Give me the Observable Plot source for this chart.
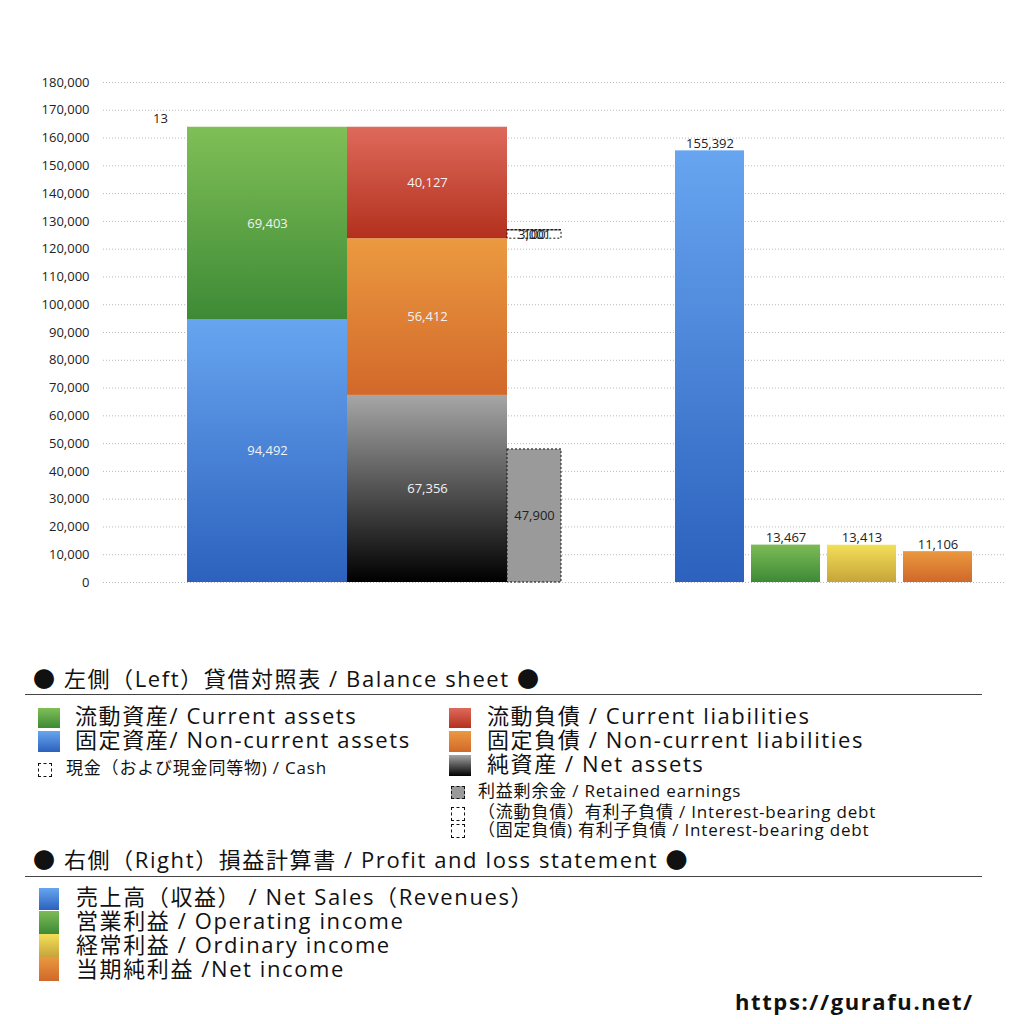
<!DOCTYPE html>
<html><head><meta charset="utf-8">
<script src="https://cdn.jsdelivr.net/npm/d3@7"></script>
<script src="https://cdn.jsdelivr.net/npm/@observablehq/plot@0.6"></script>
<style>
body{margin:0;background:#fff;font-family:"Open Sans","Noto Sans CJK JP",sans-serif;color:#111;}
#wrap{position:relative;width:1024px;height:1024px;overflow:hidden;}
#chart{position:absolute;left:0;top:0;}
.t{position:absolute;white-space:nowrap;line-height:24px;height:24px;}
.big{font-size:22px;letter-spacing:1.6px;}
.small{font-size:17px;letter-spacing:0.8px;}
.sw{position:absolute;}
.line{position:absolute;height:0;border-top:1px solid #444;}
</style></head><body>
<div id="wrap"><div id="chart"></div><div id="legend"></div></div>
<script>
// ---------- data ----------
const assetKeys = ["nonCurrentAssets", "currentAssets"];
const assetValues = [94492, 69403];
const liabKeys = ["netAssets", "nonCurrentLiabilities", "currentLiabilities"];
const liabValues = [67356, 56412, 40127];
const cashValues = [13];
const retainedValues = [47900];
const debtKeys = ["nonCurrentDebt", "currentDebt"];
const debtValues = [3001, 100];
const plKeys = ["sales", "operating", "ordinary", "netIncome"];
const plValues = [155392, 13467, 13413, 11106];
const yTicks = [0,10000,20000,30000,40000,50000,60000,70000,80000,90000,100000,110000,120000,130000,140000,150000,160000,170000,180000];

// ---------- layout (column widths along x) ----------
const layout = [["lead",30],["cash",54],["assets",160],["liabilities",160],["debt",54],["gap",114],
  ["sales",69],["g1",7],["operating",69],["g2",7],["ordinary",69],["g3",7],["netIncome",69],["trail",33]];
const colPos = {};
let acc = 0;
for (const [k, w] of layout) { colPos[k] = [acc, acc + w]; acc += w; }
const xTotal = acc;

const gradients = {
  currentAssets: ["#80bf57", "#3d8a36"],
  nonCurrentAssets: ["#67a5f0", "#2c61bd"],
  currentLiabilities: ["#de6a5c", "#b3301d"],
  nonCurrentLiabilities: ["#eb9a40", "#d2682a"],
  netAssets: ["#a6a6a6", "#000000"],
  sales: ["#67a5f0", "#2c61bd"],
  operating: ["#7dbb56", "#3d8a36"],
  ordinary: ["#f3df57", "#c6a43b"],
  netIncome: ["#ea983f", "#d0682a"]
};

function stackCol(col, keys, values, base = 0) {
  let b = base;
  return keys.map((k, i) => {
    const s = {col, key: k, value: values[i], y1: b, y2: b + values[i],
      x1: colPos[col][0], x2: colPos[col][1]};
    b += values[i];
    return s;
  });
}
const assetSegs = stackCol("assets", assetKeys, assetValues);
const liabSegs = stackCol("liabilities", liabKeys, liabValues);
const totalAssets = d3.sum(assetValues);
const cashSegs = stackCol("cash", ["cash"], cashValues, totalAssets);
const retainedSegs = stackCol("debt", ["retained"], retainedValues);
const debtSegs = stackCol("debt", debtKeys, debtValues, liabValues[0] + liabValues[1]);
const plSegs = plKeys.map((k, i) => ({col: k, key: k, value: plValues[i], y1: 0, y2: plValues[i],
  x1: colPos[k][0], x2: colPos[k][1]}));
const gradSegs = [...assetSegs, ...liabSegs, ...plSegs];

const fmt = d3.format(",");
const xm = d => (d.x1 + d.x2) / 2;
const ym = d => (d.y1 + d.y2) / 2;
const lbl = {fontSize: 13, letterSpacing: "0.3px"};

const chart = Plot.plot({
  width: 1024, height: 640,
  marginLeft: 103, marginRight: 19, marginTop: 82, marginBottom: 58,
  style: {fontFamily: "'Open Sans','Noto Sans CJK JP',sans-serif", fontSize: "13px", color: "#222", background: "#fff"},
  x: {domain: [0, xTotal], axis: null},
  y: {domain: [0, 180000], axis: null},
  color: {type: "identity"},
  marks: [
    Plot.ruleY(yTicks, {stroke: "#b8b8b8", strokeDasharray: "1,2", strokeWidth: 1}),
    Plot.axisY(yTicks, {tickSize: 0, tickPadding: 14, tickFormat: fmt, fontSize: 13, fill: "#222", label: null, letterSpacing: "0.8px"}),
    Plot.rectY(gradSegs, {x1: "x1", x2: "x2", y1: "y1", y2: "y2", fill: d => `url(#g-${d.key})`}),
    Plot.rectY(retainedSegs, {x1: "x1", x2: "x2", y1: "y1", y2: "y2", fill: "#9a9a9a", stroke: "#111", strokeDasharray: "2,2", strokeWidth: 1}),
    Plot.rectY(debtSegs, {x1: "x1", x2: "x2", y1: "y1", y2: "y2", fill: "#fff", stroke: "#111", strokeDasharray: "2,2", strokeWidth: 1}),
    Plot.rectY(cashSegs, {x1: "x1", x2: "x2", y1: "y1", y2: "y2", fill: "#fff"}),
    Plot.text([...assetSegs, ...liabSegs], {x: xm, y: ym, text: d => fmt(d.value), fill: "#f2f2f2", ...lbl}),
    Plot.text(retainedSegs, {x: xm, y: ym, text: d => fmt(d.value), fill: "#222", ...lbl}),
    Plot.text(debtSegs, {x: xm, y: d => debtSegs[0].y1 + d3.sum(debtValues) / 2, text: d => fmt(d.value), fill: "#222", ...lbl}),
    Plot.text(cashSegs, {x: xm, y: "y1", dy: -8, text: d => fmt(d.value), fill: "#222", ...lbl}),
    Plot.text(plSegs, {x: xm, y: "y2", dy: -7, text: d => fmt(d.value), fill: "#222", ...lbl})
  ]
});
document.getElementById("chart").appendChild(chart);
const svgSel = d3.select(chart.tagName.toLowerCase() === "svg" ? chart : chart.querySelector("svg"));
const defs = svgSel.insert("defs", ":first-child");
for (const [k, [c1, c2]] of Object.entries(gradients)) {
  const g = defs.append("linearGradient").attr("id", `g-${k}`).attr("x1", 0).attr("y1", 0).attr("x2", 0).attr("y2", 1);
  g.append("stop").attr("offset", "0%").attr("stop-color", c1);
  g.append("stop").attr("offset", "100%").attr("stop-color", c2);
}

// ---------- legend ----------
const leg = document.getElementById("legend");
function text(str, left, cy, cls) {
  const d = document.createElement("div");
  d.className = "t " + cls; d.textContent = str;
  d.style.left = left + "px"; d.style.top = (cy - 14) + "px";
  leg.appendChild(d);
  return d;
}
function swatch(left, top, w, h, bg, dashed) {
  const d = document.createElement("div");
  d.className = "sw";
  d.style.left = left + "px"; d.style.top = top + "px";
  d.style.width = w + "px"; d.style.height = h + "px";
  d.style.background = bg;
  if (dashed) { d.style.border = "1px dashed #111"; d.style.boxSizing = "border-box"; }
  leg.appendChild(d);
}
function line(top) {
  const d = document.createElement("div");
  d.className = "line"; d.style.left = "25px"; d.style.width = "957px"; d.style.top = top + "px";
  leg.appendChild(d);
}
const lg = k => `linear-gradient(${gradients[k][0]}, ${gradients[k][1]})`;

text("● 左側（Left）貸借対照表 / Balance sheet ●", 33, 680, "big");
line(694);
swatch(38, 708, 22, 20, lg("currentAssets"));
text("流動資産/ Current assets", 75, 717, "big");
swatch(38, 731, 22, 21, lg("nonCurrentAssets"));
text("固定資産/ Non-current assets", 75, 741, "big");
swatch(38, 763, 14, 14, "#fff", true);
text("現金（および現金同等物) / Cash", 66, 770, "small");

swatch(449, 708, 22, 20, lg("currentLiabilities"));
text("流動負債 /  Current liabilities", 487, 717, "big");
swatch(449, 731, 22, 21, lg("nonCurrentLiabilities"));
text("固定負債 / Non-current liabilities", 487, 741, "big");
swatch(449, 755, 22, 21, lg("netAssets"));
text("純資産 / Net assets", 487, 765, "big");
swatch(451, 786, 14, 13, "#9a9a9a", true);
text("利益剰余金 / Retained earnings", 478, 793, "small");
swatch(451, 807, 14, 14, "#fff", true);
text("（流動負債）有利子負債 / Interest-bearing debt", 478, 814, "small");
swatch(451, 824, 14, 14, "#fff", true);
text("（固定負債) 有利子負債 / Interest-bearing debt", 478, 832, "small");

text("● 右側（Right）損益計算書 / Profit and loss statement ●", 33, 861, "big");
line(876);
swatch(39, 888, 20, 22, lg("sales"));
text("売上高（収益） / Net Sales（Revenues）", 76, 898, "big");
swatch(39, 911, 20, 23, lg("operating"));
text("営業利益 / Operating income", 76, 922, "big");
swatch(39, 934, 20, 23, lg("ordinary"));
text("経常利益 / Ordinary income", 76, 946, "big");
swatch(39, 957, 20, 24, lg("netIncome"));
text("当期純利益 /Net income", 76, 970, "big");

const f = document.createElement("div");
f.className = "t big"; f.textContent = "https://gurafu.net/";
f.style.left = "735px"; f.style.top = "989px"; f.style.fontWeight = "bold";
f.style.fontFamily = "'Open Sans','Noto Sans CJK JP',sans-serif";
leg.appendChild(f);
</script>
</body></html>
